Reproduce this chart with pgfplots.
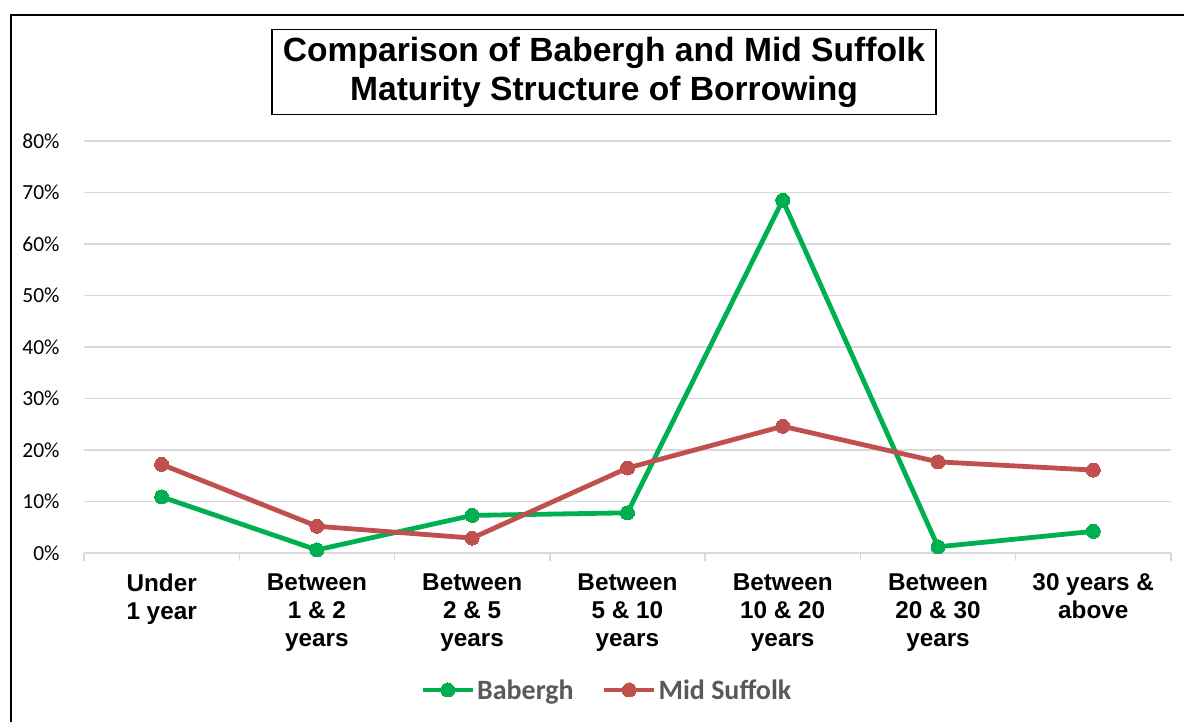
\documentclass[border=0pt]{standalone}
\usepackage{pgfplots}
\pgfplotsset{compat=1.18}
\usepackage{fontspec}
\setmainfont{Liberation Sans}
\newfontfamily\calibri{Carlito}
\definecolor{bgreen}{HTML}{00B050}
\definecolor{mred}{HTML}{C0504D}
\definecolor{gridc}{HTML}{D9D9D9}
\definecolor{legtxt}{HTML}{595959}
\begin{document}
\begin{tikzpicture}[x=1pt,y=1pt]
\useasboundingbox (0,0) rectangle (1184,721);
\draw[line width=2.5pt] (11,-5) -- (11,706) -- (1190,706);
\node[draw, line width=1.5pt, minimum width=664pt, minimum height=85pt, align=center, inner sep=0pt,
  font=\fontsize{33.6}{39}\selectfont\bfseries] at (604,649)
  {Comparison of Babergh and Mid Suffolk\\Maturity Structure of Borrowing};
\begin{axis}[
  at={(84pt,168pt)}, anchor=south west,
  scale only axis, width=1087pt, height=412pt,
  xmin=-0.5, xmax=6.5, ymin=0, ymax=80,
  axis x line*=bottom, axis y line*=left,
  x axis line style={draw=gridc, line width=1.5pt},
  y axis line style={draw=none},
  ytick={0,10,...,80},
  yticklabel={\pgfmathparse{int(\tick)}\pgfmathresult\%},
  yticklabel style={font=\calibri\fontsize{21.5}{24}\selectfont, anchor=east, inner sep=0pt, xshift=-20pt},
  ytick style={draw=none},
  ymajorgrids, grid style={draw=gridc, line width=1.5pt},
  xtick={0,...,6},
  xticklabels={Under\\1 year, Between\\1 \& 2\\years, Between\\2 \& 5\\years, Between\\5 \& 10\\years, Between\\10 \& 20\\years, Between\\20 \& 30\\years, 30 years \&\\above},
  xticklabel style={align=center, font=\fontsize{24.3}{28}\selectfont\bfseries, anchor=north, inner sep=0pt, yshift=-16.5pt},
  major x tick style={draw=none},
  minor xtick={-0.5,0.5,...,6.5},
  minor tick length=8pt,
  tick align=outside,
  minor x tick style={draw=gridc, line width=1.5pt},
  legend columns=2,
  legend style={at={(0.481,-0.3325)}, anchor=center, draw=none, fill=none,
    font=\calibri\bfseries\fontsize{28}{30}\selectfont, text=legtxt,
    /tikz/every even column/.append style={column sep=26pt}},
  legend image code/.code={\draw[mark repeat=2,mark phase=2] plot coordinates {(0pt,0pt) (25pt,0pt) (50pt,0pt)};},
  legend cell align=left,
]
\addplot[color=bgreen, line width=4.8pt, mark=*, mark size=7pt, mark options={line width=0pt}] coordinates {
 (0,10.9) (1,0.6) (2,7.3) (3,7.8) (4,68.5) (5,1.2) (6,4.2)};
\addlegendentry{Babergh}
\addplot[color=mred, line width=4.8pt, mark=*, mark size=7pt, mark options={line width=0pt}] coordinates {
 (0,17.2) (1,5.2) (2,2.9) (3,16.5) (4,24.6) (5,17.7) (6,16.1)};
\addlegendentry{Mid Suffolk}
\end{axis}
\end{tikzpicture}
\end{document}
